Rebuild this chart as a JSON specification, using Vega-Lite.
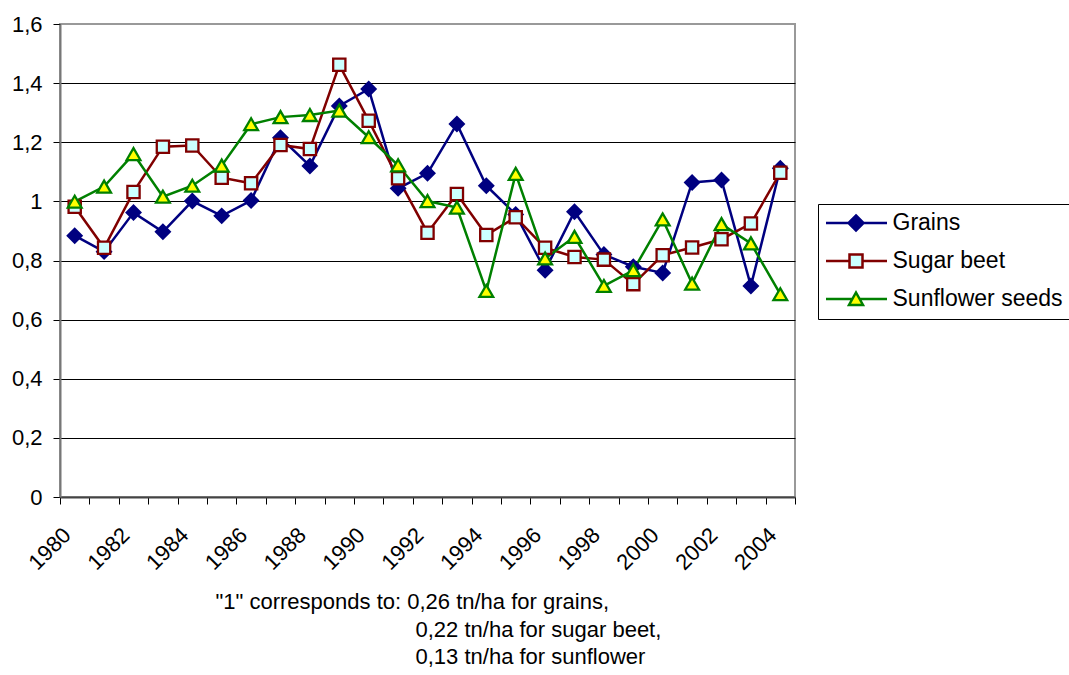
{
  "$schema": "https://vega.github.io/schema/vega-lite/v6.json",
  "autosize": {"type": "none"},
  "padding": {"left": 60, "top": 24, "right": 274, "bottom": 178},
  "width": 735,
  "height": 473,
  "background": "white",
  "config": {
    "font": "Liberation Sans",
    "view": {"stroke": "#999999", "strokeWidth": 2},
    "axis": {"labelFont": "Liberation Sans", "labelColor": "black", "tickColor": "black", "titleFont": "Liberation Sans", "titleColor": "black"}
  },
  "data": {
    "values": [
      {"year": 1980, "series": "Grains", "value": 0.884},
      {"year": 1981, "series": "Grains", "value": 0.83},
      {"year": 1982, "series": "Grains", "value": 0.962},
      {"year": 1983, "series": "Grains", "value": 0.897},
      {"year": 1984, "series": "Grains", "value": 1.001},
      {"year": 1985, "series": "Grains", "value": 0.951},
      {"year": 1986, "series": "Grains", "value": 1.003},
      {"year": 1987, "series": "Grains", "value": 1.215},
      {"year": 1988, "series": "Grains", "value": 1.12},
      {"year": 1989, "series": "Grains", "value": 1.323},
      {"year": 1990, "series": "Grains", "value": 1.38},
      {"year": 1991, "series": "Grains", "value": 1.044},
      {"year": 1992, "series": "Grains", "value": 1.095},
      {"year": 1993, "series": "Grains", "value": 1.262},
      {"year": 1994, "series": "Grains", "value": 1.053},
      {"year": 1995, "series": "Grains", "value": 0.956},
      {"year": 1996, "series": "Grains", "value": 0.767},
      {"year": 1997, "series": "Grains", "value": 0.965},
      {"year": 1998, "series": "Grains", "value": 0.82},
      {"year": 1999, "series": "Grains", "value": 0.779},
      {"year": 2000, "series": "Grains", "value": 0.758},
      {"year": 2001, "series": "Grains", "value": 1.064},
      {"year": 2002, "series": "Grains", "value": 1.072},
      {"year": 2003, "series": "Grains", "value": 0.714},
      {"year": 2004, "series": "Grains", "value": 1.112},
      {"year": 1980, "series": "Sugar beet", "value": 0.982},
      {"year": 1981, "series": "Sugar beet", "value": 0.843},
      {"year": 1982, "series": "Sugar beet", "value": 1.032},
      {"year": 1983, "series": "Sugar beet", "value": 1.185},
      {"year": 1984, "series": "Sugar beet", "value": 1.189},
      {"year": 1985, "series": "Sugar beet", "value": 1.08},
      {"year": 1986, "series": "Sugar beet", "value": 1.061},
      {"year": 1987, "series": "Sugar beet", "value": 1.191},
      {"year": 1988, "series": "Sugar beet", "value": 1.177},
      {"year": 1989, "series": "Sugar beet", "value": 1.462},
      {"year": 1990, "series": "Sugar beet", "value": 1.273},
      {"year": 1991, "series": "Sugar beet", "value": 1.078},
      {"year": 1992, "series": "Sugar beet", "value": 0.894},
      {"year": 1993, "series": "Sugar beet", "value": 1.025},
      {"year": 1994, "series": "Sugar beet", "value": 0.886},
      {"year": 1995, "series": "Sugar beet", "value": 0.946},
      {"year": 1996, "series": "Sugar beet", "value": 0.843},
      {"year": 1997, "series": "Sugar beet", "value": 0.812},
      {"year": 1998, "series": "Sugar beet", "value": 0.803},
      {"year": 1999, "series": "Sugar beet", "value": 0.72},
      {"year": 2000, "series": "Sugar beet", "value": 0.818},
      {"year": 2001, "series": "Sugar beet", "value": 0.844},
      {"year": 2002, "series": "Sugar beet", "value": 0.872},
      {"year": 2003, "series": "Sugar beet", "value": 0.925},
      {"year": 2004, "series": "Sugar beet", "value": 1.097},
      {"year": 1980, "series": "Sunflower seeds", "value": 0.999},
      {"year": 1981, "series": "Sunflower seeds", "value": 1.05},
      {"year": 1982, "series": "Sunflower seeds", "value": 1.16},
      {"year": 1983, "series": "Sunflower seeds", "value": 1.016},
      {"year": 1984, "series": "Sunflower seeds", "value": 1.053},
      {"year": 1985, "series": "Sunflower seeds", "value": 1.121},
      {"year": 1986, "series": "Sunflower seeds", "value": 1.261},
      {"year": 1987, "series": "Sunflower seeds", "value": 1.285},
      {"year": 1988, "series": "Sunflower seeds", "value": 1.292},
      {"year": 1989, "series": "Sunflower seeds", "value": 1.307},
      {"year": 1990, "series": "Sunflower seeds", "value": 1.217},
      {"year": 1991, "series": "Sunflower seeds", "value": 1.122},
      {"year": 1992, "series": "Sunflower seeds", "value": 1.001},
      {"year": 1993, "series": "Sunflower seeds", "value": 0.979},
      {"year": 1994, "series": "Sunflower seeds", "value": 0.697},
      {"year": 1995, "series": "Sunflower seeds", "value": 1.093},
      {"year": 1996, "series": "Sunflower seeds", "value": 0.807},
      {"year": 1997, "series": "Sunflower seeds", "value": 0.88},
      {"year": 1998, "series": "Sunflower seeds", "value": 0.714},
      {"year": 1999, "series": "Sunflower seeds", "value": 0.767},
      {"year": 2000, "series": "Sunflower seeds", "value": 0.939},
      {"year": 2001, "series": "Sunflower seeds", "value": 0.722},
      {"year": 2002, "series": "Sunflower seeds", "value": 0.923},
      {"year": 2003, "series": "Sunflower seeds", "value": 0.858},
      {"year": 2004, "series": "Sunflower seeds", "value": 0.686}
    ]
  },
  "encoding": {
    "x": {
      "field": "year",
      "type": "ordinal",
      "scale": {"type": "band", "paddingInner": 0, "paddingOuter": 0},
      "axis": {
        "title": ["0,22 tn/ha for sugar beet,", "0,13 tn/ha for sunflower"],
        "titleX": 355,
        "titleY": 139,
        "titleAlign": "left",
        "titleAnchor": "start",
        "titleBaseline": "alphabetic",
        "titleFontSize": 22,
        "titleFontWeight": "normal",
        "titleLineHeight": 27.5,
        "tickBand": "extent",
        "tickSize": 7,
        "domainColor": "#444444",
        "domainWidth": 2,
        "labelAngle": -45,
        "labelFontSize": 22,
        "labelPadding": 20,
        "labelOffset": -15,
        "labelExpr": "datum.value % 2 === 0 ? datum.label : ''",
        "grid": false
      }
    },
    "y": {
      "field": "value",
      "type": "quantitative",
      "scale": {"domain": [0, 1.6], "nice": false, "zero": true},
      "axis": {
        "title": "\"1\" corresponds to: 0,26 tn/ha for grains,",
        "titleAngle": 0,
        "titleX": 155,
        "titleY": 584,
        "titleAlign": "left",
        "titleAnchor": "start",
        "titleBaseline": "alphabetic",
        "titleFontSize": 22,
        "titleFontWeight": "normal",
        "values": [0, 0.2, 0.4, 0.6, 0.8, 1.0, 1.2, 1.4, 1.6],
        "labelExpr": "replace(format(datum.value, '.1~f'), '.', ',')",
        "labelFontSize": 22,
        "tickSize": 7,
        "labelPadding": 11,
        "domainColor": "#777777",
        "domainWidth": 2,
        "grid": true,
        "gridColor": {"condition": {"test": "datum.value >= 1.59 || datum.value <= 0.01", "value": "#999999"}, "value": "black"},
        "gridWidth": 1,
        "gridOpacity": 1
      }
    }
  },
  "layer": [
    {
      "mark": {"type": "line", "strokeWidth": 2.5},
      "encoding": {
        "color": {
          "field": "series",
          "type": "nominal",
          "scale": {"domain": ["Grains", "Sugar beet", "Sunflower seeds"], "range": ["#000080", "#800000", "#008000"]},
          "legend": {
            "title": null,
            "orient": "none",
            "legendX": 758,
            "legendY": 180,
            "padding": 7.5,
            "strokeColor": "black",
            "fillColor": "white",
            "labelFont": "Liberation Sans",
            "labelFontSize": 23,
            "labelColor": "black",
            "labelLimit": 0,
            "labelOffset": 25,
            "symbolOffset": 19,
            "rowPadding": 14,
            "symbolSize": 400,
            "symbolStrokeWidth": 2.5,
            "encode": {
              "symbols": {
                "update": {
                  "shape": {"signal": "datum.value === 'Grains' ? 'M-3.0,0H-0.75M0.75,0H3.1M0,-0.75L0.75,0L0,0.75L-0.75,0Z' : datum.value === 'Sugar beet' ? 'M-3.0,0H-0.65M0.65,0H3.1M-0.65,-0.65H0.65V0.65H-0.65Z' : 'M-3.0,0H-0.36M0.36,0H3.1M0,-0.65L0.7,0.6H-0.7Z'"},
                  "fill": {"signal": "datum.value === 'Grains' ? '#000080' : datum.value === 'Sugar beet' ? '#CCFFFF' : '#FFFF00'"},
                  "fillOpacity": {"value": 1},
                  "strokeWidth": {"value": 2.5}
                }
              }
            }
          }
        }
      }
    },
    {
      "transform": [{"filter": "datum.series === 'Grains'"}],
      "mark": {"type": "point", "shape": "diamond", "filled": true, "fill": "#000080", "stroke": "#000080", "strokeWidth": 2, "size": 200, "opacity": 1}
    },
    {
      "transform": [{"filter": "datum.series === 'Sugar beet'"}],
      "mark": {"type": "point", "shape": "square", "filled": true, "fill": "#CCFFFF", "stroke": "#800000", "strokeWidth": 2.3, "size": 150, "opacity": 1}
    },
    {
      "transform": [{"filter": "datum.series === 'Sunflower seeds'"}],
      "mark": {"type": "point", "shape": "triangle-up", "filled": true, "fill": "#FFFF00", "stroke": "#008000", "strokeWidth": 2.3, "size": 190, "opacity": 1}
    }
  ]
}
